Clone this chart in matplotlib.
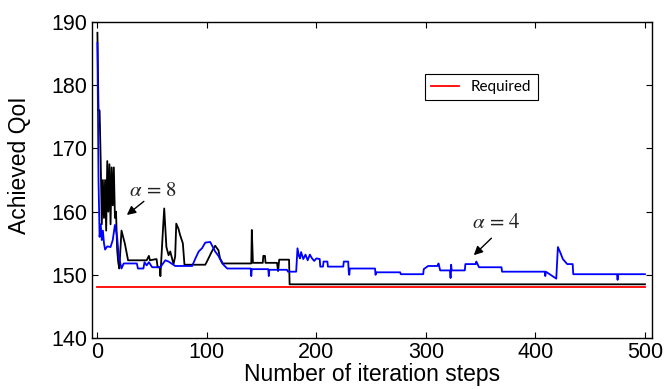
import matplotlib
matplotlib.use("Agg")
import matplotlib.pyplot as plt

# ---- data ----
black_x = [0, 1, 2, 3, 4, 5, 6, 7, 8, 9, 10, 11, 12, 13, 14, 15, 16, 17, 18, 19, 20, 22, 25, 28,
           45, 47, 48, 54, 55, 57, 57.5, 60, 61, 63, 65, 66.5, 69.5, 71, 72, 74, 75.5, 78, 79.5,
           98.5, 100, 104.5, 107.5, 110.5, 112, 114.5, 140.5, 141, 142, 151, 151.5, 153, 153.5,
           164, 165, 166, 175, 175.5, 500]
black_y = [188.3, 176, 176, 168, 158, 165, 159, 165, 157, 168, 160, 167.5, 158, 167, 161, 167, 159, 160, 154, 152, 151, 157, 155, 152.3,
           152.3, 153, 152.3, 152.5, 151.2, 151.2, 149.8, 157.6, 160.5, 154.4, 153.1, 153.7, 151.7, 152.9, 158.1, 157.3, 156.3, 155.0, 151.6,
           151.6, 152.1, 153.7, 154.6, 153.9, 152.6, 151.8, 151.8, 157.1, 151.9, 151.9, 153.0, 153.0, 151.9,
           151.9, 150.6, 152.4, 152.4, 148.5, 148.5]

blue_x = [0, 1, 2, 3, 4, 5, 6, 7, 9, 12, 14, 16, 16.5, 18, 19.5, 22, 24, 36, 37, 42, 43, 45, 47, 50,
          57.5, 62, 65, 71, 86.5, 89.5, 92.5, 95.5, 98.5, 103, 104.5, 107.5, 110.5, 114, 118.5,
          140, 140.5, 141, 156, 156.5, 157, 173, 174, 181.5, 182.7, 184, 185, 186, 188, 190, 192,
          194, 196, 198, 200, 203, 203.5, 206, 206.5, 210, 210.5, 224.5, 225, 229, 229.5, 230,
          230.5, 253.5, 254, 254.5, 276.5, 277, 297.5, 298, 302, 310.5, 311.5, 313, 322, 322.5,
          323, 323.5, 335.5, 336, 345.5, 346, 348.5, 369, 369.5, 408.5, 409, 409.5, 419, 420.5,
          423, 425, 429, 434, 434.5, 474.5, 475, 475.5, 500]
blue_y = [186.7, 165, 156, 158, 155.5, 157, 155, 154, 154.5, 154.4, 155.5, 157.9, 157.5, 156, 152.9, 151.0, 151.8, 151.8, 151.0, 151.0, 152.0, 151.5, 152.0, 151.2,
          151.2, 152.3, 152.1, 151.4, 151.4, 152.6, 153.7, 154.2, 155.1, 155.2, 154.7, 153.7, 153.0, 151.8, 151.0,
          151.0, 149.8, 150.9, 150.9, 149.8, 150.8, 150.8, 150.5, 150.5, 154.2, 153.0, 152.6, 153.6, 152.5, 153.2, 152.3,
          153.2, 152.6, 152.2, 152.6, 152.5, 151.3, 151.3, 152.1, 152.1, 151.3, 151.3, 152.1, 152.1, 150.5, 150.0,
          151.0, 151.0, 150.0, 150.4, 150.4, 150.1, 150.1, 150.9, 151.4, 151.4, 151.8, 150.7, 150.7, 149.5,
          151.6, 150.7, 150.7, 151.7, 151.7, 152.1, 151.2, 151.2, 150.5, 150.5, 149.8, 150.5, 149.4, 154.4,
          153.4, 152.5, 151.7, 151.7, 150.1, 150.1, 149.2, 150.1, 150.1]

required_x = [0, 500]
required_y = [148, 148]

x_ticks = [0, 100, 200, 300, 400, 500]
y_ticks = [140, 150, 160, 170, 180, 190]

# ---- figure ----
plt.rcParams['mathtext.fontset'] = 'stix'
fig = plt.figure(figsize=(6.68, 3.89), dpi=100)
ax = fig.add_axes([0.1373, 0.131, 0.8387, 0.8124])

ax.plot(black_x, black_y, color='black', lw=1.3)
ax.plot(blue_x, blue_y, color='#0000ff', lw=1.3)
ax.plot(required_x, required_y, color='#ff0000', lw=1.3, label='Required')

ax.set_xlim(-5.2, 506.4)
ax.set_ylim(140, 190)
ax.set_xticks(x_ticks)
ax.set_yticks(y_ticks)
for s in ax.spines.values():
    s.set_linewidth(1.0)
ax.tick_params(direction='in', top=True, right=True, length=4, width=0.8, pad=3,
               labelsize=15.5)
for lab in ax.get_xticklabels() + ax.get_yticklabels():
    lab.set_family('Liberation Sans')

ax.set_xlabel('Number of iteration steps', fontsize=16.5, family='Liberation Sans', labelpad=0)
ax.set_ylabel('Achieved QoI', fontsize=16.5, family='Liberation Sans')
ax.yaxis.set_label_coords(-0.108, 0.547)

leg = ax.legend(loc='upper left', bbox_to_anchor=(0.595, 0.835), borderaxespad=0,
                fancybox=False, framealpha=1, edgecolor='black', handlelength=1.8,
                prop={'family': 'Lato', 'size': 11})
leg.get_frame().set_linewidth(0.8)

ax.annotate('', xy=(24.9, 159.2), xytext=(44.4, 161.9),
            arrowprops=dict(arrowstyle='-|>', color='black', lw=1.0, mutation_scale=13))
ax.text(50.4, 163.4, r'$\alpha\,=\,8$', fontsize=15, ha='center', va='center', color='#222222')

ax.annotate('', xy=(341.9, 152.8), xytext=(361.6, 156.1),
            arrowprops=dict(arrowstyle='-|>', color='black', lw=1.0, mutation_scale=13))
ax.text(364.4, 158.4, r'$\alpha\,=\,4$', fontsize=15, ha='center', va='center', color='#222222')

fig.savefig('out.png', dpi=100)
